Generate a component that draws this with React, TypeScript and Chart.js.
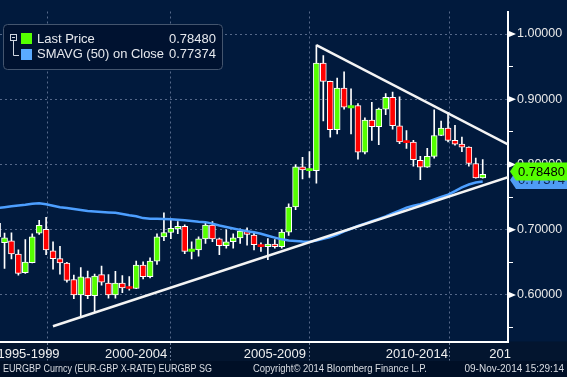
import React, { useEffect, useRef } from 'react';
import { Chart, registerables } from 'chart.js';
Chart.register(...registerables);

// Quarterly EURGBP candles (Q2 1997 .. Q4 2014)
const opens = [0.7096,0.6800,0.6830,0.6627,0.6341,0.6493,0.6948,0.7007,0.6676,0.6557,0.6489,0.6237,0.6000,0.6267,0.5990,0.6311,0.6182,0.6000,0.6182,0.6123,0.6098,0.6459,0.6281,0.6519,0.6889,0.6957,0.7012,0.7052,0.6667,0.6690,0.6859,0.7071,0.6859,0.6756,0.6815,0.6874,0.6978,0.6918,0.6760,0.6741,0.6779,0.6741,0.6963,0.7348,0.7964,0.7905,0.7905,0.9556,0.9274,0.8533,0.9170,0.8868,0.8904,0.8187,0.8682,0.8578,0.8849,0.9031,0.8593,0.8350,0.8345,0.8064,0.7960,0.8123,0.8444,0.8557,0.8370,0.8311,0.8267,0.8015,0.7793];
const highs = [0.7160,0.6948,0.6953,0.6690,0.6849,0.6938,0.7145,0.7190,0.6815,0.6745,0.6500,0.6305,0.6419,0.6364,0.6320,0.6444,0.6311,0.6360,0.6296,0.6281,0.6519,0.6508,0.6567,0.6938,0.7259,0.7150,0.7126,0.7076,0.6815,0.6889,0.7096,0.7126,0.6870,0.6997,0.6938,0.7012,0.7027,0.6953,0.6800,0.6864,0.6849,0.7002,0.7397,0.8000,0.8108,0.8197,0.9831,0.9668,0.9280,0.9323,0.9422,0.9160,0.8933,0.8716,0.8953,0.8864,0.9086,0.9111,0.9037,0.8519,0.8370,0.8123,0.8246,0.8838,0.8667,0.8800,0.8601,0.8419,0.8270,0.8098,0.8074];
const lows = [0.6790,0.6405,0.6553,0.6301,0.6330,0.6490,0.6927,0.6616,0.6394,0.6320,0.6197,0.5941,0.5679,0.5941,0.5727,0.6148,0.5950,0.5950,0.6034,0.6074,0.6095,0.6246,0.6261,0.6468,0.6830,0.6864,0.6938,0.6631,0.6553,0.6593,0.6790,0.6815,0.6616,0.6716,0.6716,0.6790,0.6764,0.6690,0.6667,0.6542,0.6716,0.6716,0.6913,0.7308,0.7778,0.7802,0.7713,0.8667,0.8419,0.8468,0.8849,0.8468,0.8083,0.8163,0.8370,0.8305,0.8765,0.8542,0.8320,0.8246,0.7975,0.7767,0.7955,0.8098,0.8440,0.8345,0.8296,0.8197,0.7975,0.7790,0.7790];
const closes = [0.6889,0.6874,0.6627,0.6330,0.6504,0.6889,0.7067,0.6690,0.6557,0.6489,0.6222,0.6000,0.6276,0.5990,0.6290,0.6197,0.6000,0.6182,0.6108,0.6098,0.6459,0.6281,0.6519,0.6889,0.6957,0.7022,0.7052,0.6667,0.6701,0.6859,0.7071,0.6859,0.6756,0.6815,0.6874,0.6978,0.6927,0.6770,0.6741,0.6779,0.6741,0.6963,0.7348,0.7964,0.7916,0.7916,0.9556,0.9274,0.8533,0.9170,0.8879,0.8904,0.8187,0.8682,0.8578,0.8849,0.9031,0.8593,0.8345,0.8335,0.8074,0.7960,0.8123,0.8444,0.8557,0.8370,0.8311,0.8267,0.8015,0.7793,0.7848];
const sma50 = [0.7330,0.7345,0.7360,0.7370,0.7382,0.7397,0.7407,0.7390,0.7367,0.7345,0.7333,0.7316,0.7301,0.7286,0.7279,0.7271,0.7264,0.7259,0.7242,0.7222,0.7205,0.7178,0.7168,0.7166,0.7165,0.7160,0.7153,0.7145,0.7133,0.7123,0.7116,0.7093,0.7064,0.7042,0.7019,0.6997,0.6975,0.6960,0.6938,0.6908,0.6879,0.6852,0.6834,0.6827,0.6819,0.6815,0.6834,0.6859,0.6889,0.6926,0.6975,0.7015,0.7056,0.7093,0.7130,0.7167,0.7204,0.7249,0.7293,0.7338,0.7367,0.7390,0.7427,0.7464,0.7501,0.7538,0.7590,0.7649,0.7693,0.7723,0.77374];

const yTickValues = [0.55, 0.6, 0.65, 0.7, 0.75, 0.8, 0.85, 0.9, 0.95, 1.0];
const yMajorTicks = [0.6, 0.7, 0.8, 0.9, 1.0];
const periodLabels = ['1995-1999', '2000-2004', '2005-2009', '2010-2014', '201'];
const periodLabelAt = [4.46, 20, 40, 60.5, 72.5];
const periodBoundaries = [10, 30, 50, 70];
const trendUpper = [{ x: 46, y: 0.9831 }, { x: 73.65, y: 0.8307 }];
const trendLower = [{ x: 7.99, y: 0.5519 }, { x: 73.65, y: 0.7806 }];
const legendNames = ['Last Price', 'SMAVG (50) on Close'];
const footerTexts = ['EURGBP Curncy (EUR-GBP X-RATE) EURGBP SG', 'Copyright\u00A9 2014 Bloomberg Finance L.P.', '09-Nov-2014 15:29:14'];

const GREEN = '#55ff00';
const RED = '#ff0000';
const BLUE = '#4d9fff';
const BLUE_TAG = '#4f9cf5';
const GRID = '#56698a';
const FONT = '"Liberation Sans", Arial, sans-serif';

const near = (a: number, b: number) => Math.abs(a - b) < 1e-6;

const bbgPlugin = {
  id: 'bbg',
  beforeDraw(chart: any) {
    const { ctx, chartArea: a, width, height } = chart;
    ctx.save();
    ctx.fillStyle = '#011a3d';
    ctx.fillRect(0, 0, width, height);
    ctx.fillStyle = '#03152f';
    ctx.fillRect(0, a.bottom, width, height - a.bottom);
    ctx.fillStyle = '#000f26';
    ctx.fillRect(0, 361, width, height - 361);
    ctx.restore();
  },
  afterDraw(chart: any) {
    const { ctx, chartArea: a, width } = chart;
    const ys = chart.scales.y;
    ctx.save();
    // arrow markers on major ticks
    ctx.fillStyle = '#ffffff';
    yMajorTicks.forEach((v) => {
      const py = ys.getPixelForValue(v);
      ctx.beginPath();
      ctx.moveTo(a.right + 1, py - 3);
      ctx.lineTo(a.right + 8, py);
      ctx.lineTo(a.right + 1, py + 3);
      ctx.closePath();
      ctx.fill();
    });
    // price tags
    const tag = (val: number, cy: number, fill: string, txt: string) => {
      const x0 = a.right + 2, x1 = a.right + 8, h = 9;
      ctx.beginPath();
      ctx.moveTo(x0, cy);
      ctx.lineTo(x1, cy - h);
      ctx.lineTo(width, cy - h);
      ctx.lineTo(width, cy + h);
      ctx.lineTo(x1, cy + h);
      ctx.closePath();
      ctx.fillStyle = fill;
      ctx.fill();
      ctx.fillStyle = txt;
      ctx.font = `13px ${FONT}`;
      ctx.textAlign = 'left';
      ctx.textBaseline = 'middle';
      ctx.fillText(val.toFixed(5), a.right + 10, cy + 0.5);
    };
    const lastClose = closes[closes.length - 1];
    const lastSma = sma50[sma50.length - 1];
    tag(lastSma, ys.getPixelForValue(lastSma) - 1.5, BLUE_TAG, '#0b2450');
    tag(lastClose, ys.getPixelForValue(lastClose) - 2.8, GREEN, '#000000');

    // legend box
    ctx.beginPath();
    ctx.roundRect(3.5, 24.5, 219, 45, 4);
    ctx.fillStyle = '#001230';
    ctx.fill();
    ctx.strokeStyle = '#44556e';
    ctx.lineWidth = 1;
    ctx.stroke();
    ctx.strokeStyle = '#cfd6e0';
    ctx.strokeRect(10.5, 34.5, 6, 6);
    ctx.beginPath();
    ctx.moveTo(12, 37.5); ctx.lineTo(15, 37.5);
    ctx.moveTo(13.5, 40.5); ctx.lineTo(13.5, 55.5); ctx.lineTo(19, 55.5);
    ctx.stroke();
    ctx.fillStyle = GREEN;
    ctx.fillRect(21, 33, 11, 11);
    ctx.fillStyle = '#5aaaff';
    ctx.fillRect(21, 49, 11, 11);
    ctx.fillStyle = '#e6e9ee';
    ctx.font = `13px ${FONT}`;
    ctx.textBaseline = 'middle';
    ctx.textAlign = 'left';
    ctx.fillText(legendNames[0], 37, 39.5, 62);
    ctx.fillText(legendNames[1], 37, 54.5, 127);
    ctx.textAlign = 'right';
    ctx.fillText(lastClose.toFixed(5), 216, 39.5);
    ctx.fillText(lastSma.toFixed(5), 216, 54.5);

    // footer
    ctx.font = `10px ${FONT}`;
    ctx.fillStyle = '#d9dde3';
    ctx.textAlign = 'left';
    ctx.fillText(footerTexts[0], 3, 369.5, 209);
    ctx.fillText(footerTexts[1], 253, 369.5, 174);
    ctx.textAlign = 'right';
    ctx.fillText(footerTexts[2], 564, 369.5, 116);
    ctx.restore();
  },
};

export default function App() {
  const ref = useRef<HTMLCanvasElement>(null);
  useEffect(() => {
    const canvas = ref.current as HTMLCanvasElement;
    Chart.defaults.font.family = FONT;
    const bodies = opens.map((o, i) => ({ x: i, y: [o, closes[i]] }));
    const wicks = lows.map((l, i) => ({ x: i, y: [l, highs[i]] }));
    const smaPts = sma50.map((v, i) => ({ x: i, y: v }));
    const xTicks = [...periodLabelAt, ...periodBoundaries].sort((p, q) => p - q);
    const chart = new Chart(canvas, {
      type: 'bar',
      data: {
        datasets: [
          {
            type: 'line', data: trendUpper as any, borderColor: '#f4f4f4', borderWidth: 2.5,
            pointRadius: 0, order: 0,
          } as any,
          {
            type: 'line', data: trendLower as any, borderColor: '#f4f4f4', borderWidth: 2.5,
            pointRadius: 0, order: 0,
          } as any,
          {
            type: 'line', data: smaPts as any, borderColor: BLUE, borderWidth: 2.5,
            pointRadius: 0, order: 1,
          } as any,
          {
            type: 'bar', data: bodies as any, grouped: false, barThickness: 6, minBarLength: 2,
            backgroundColor: bodies.map((b) => (b.y[1] >= b.y[0] ? GREEN : RED)),
            borderColor: '#ffffff',
            borderWidth: bodies.map((b) => (Math.abs(b.y[1] - b.y[0]) < 0.0036 ? 0 : 1)),
            borderSkipped: false, order: 2,
          } as any,
          {
            type: 'bar', data: wicks as any, grouped: false, barThickness: 1,
            backgroundColor: '#ffffff', borderWidth: 0, order: 3,
          } as any,
        ],
      },
      options: {
        responsive: false,
        animation: false,
        devicePixelRatio: 1,
        layout: { padding: 0 },
        plugins: { legend: { display: false }, tooltip: { enabled: false } },
        scales: {
          x: {
            type: 'linear', min: 0.346, max: 73.65, bounds: 'data', offset: false, position: 'bottom',
            afterFit: (s: any) => { s.height = 35.5; },
            afterBuildTicks: (s: any) => { s.ticks = xTicks.map((v) => ({ value: v })); },
            ticks: {
              autoSkip: false, maxRotation: 0, minRotation: 0, padding: -14,
              color: '#f0f0f0', font: { size: 13 },
              callback: (v: any) => {
                const k = periodLabelAt.findIndex((p) => near(p, Number(v)));
                return k >= 0 ? periodLabels[k] : '';
              },
            },
            grid: {
              color: (c: any) => (periodBoundaries.some((b) => near(b, c.tick?.value)) ? GRID : 'transparent'),
              tickColor: (c: any) => (periodBoundaries.some((b) => near(b, c.tick?.value)) ? '#6b7b96' : 'transparent'),
              tickLength: 19, tickBorderDash: [2, 2], lineWidth: 1,
            },
            border: { color: '#ffffff', width: 2, dash: [2, 3] },
          },
          y: {
            type: 'linear', position: 'right', min: 0.5286, max: 1.03452, bounds: 'data',
            afterFit: (s: any) => { s.width = 59; },
            afterBuildTicks: (s: any) => { s.ticks = yTickValues.map((v) => ({ value: v })); },
            ticks: {
              padding: 4, color: '#e8e8e8', font: { size: 12.5 },
              callback: (v: any) => (yMajorTicks.some((m) => near(m, Number(v))) ? Number(v).toFixed(5) : ''),
            },
            grid: {
              color: (c: any) => (yMajorTicks.some((m) => near(m, c.tick?.value)) ? GRID : 'transparent'),
              tickColor: '#ffffff', tickLength: 5, lineWidth: 1,
            },
            border: { color: '#ffffff', width: 2, dash: [2, 3] },
          },
        },
      } as any,
      plugins: [bbgPlugin],
    });
    return () => chart.destroy();
  }, []);
  return (
    <div style={{ position: 'fixed', left: 0, top: 0, width: 567, height: 377, background: '#011a3d' }}>
      <canvas ref={ref} width={567} height={377} style={{ display: 'block', width: '567px', height: '377px' }} />
    </div>
  );
}
